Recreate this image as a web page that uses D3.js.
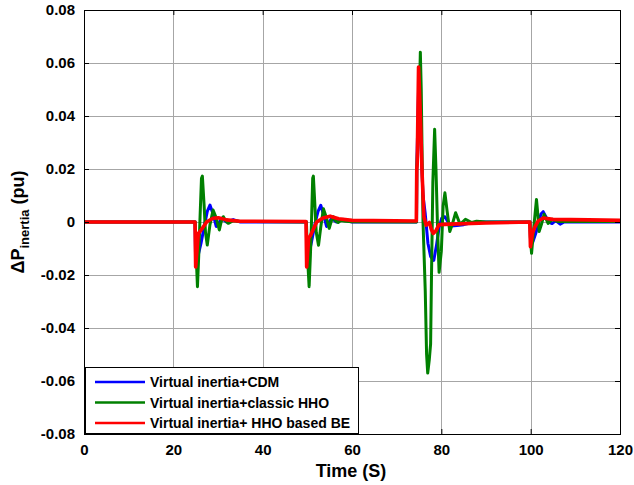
<!DOCTYPE html>
<html>
<head>
<meta charset="utf-8">
<script src="https://cdn.jsdelivr.net/npm/d3@7"></script>
<style>
  body { margin: 0; background: #fff; }
  text { font-family: Arial, "Liberation Sans", sans-serif; font-weight: bold; fill: #000; }
</style>
</head>
<body>
<svg id="chart" width="634" height="485"></svg>
<script>
// Axis ticks
const xTicks = [0, 20, 40, 60, 80, 100, 120];
const yTicks = [-0.08, -0.06, -0.04, -0.02, 0, 0.02, 0.04, 0.06, 0.08];

// Series labels
const seriesNames = ["Virtual inertia+CDM", "Virtual inertia+classic HHO", "Virtual inertia+ HHO based BE"];

// [time (s), ΔP_inertia (pu)] for each controller
const cdmPoints = [
  [0, 0], [24.85, 0], [25.0, -0.016], [25.5, -0.013], [26.2, -0.008], [27.0, -0.001], [27.6, 0.004],
  [28.2, 0.0064], [28.9, 0.003], [29.6, -0.0017], [30.2, -0.0005], [30.8, 0.0014], [31.9, 0.0],
  [33.4, 0.0009], [35.0, 0.0],
  [49.75, 0], [49.9, -0.016], [50.4, -0.012], [51.0, -0.007], [51.8, 0.0], [52.4, 0.004], [53.0, 0.0063],
  [53.6, 0.003], [54.3, -0.0017], [54.9, 0.0], [55.4, 0.0013], [56.5, 0.0], [58.0, 0.001], [60.0, 0.0],
  [74.45, 0], [74.5, 0.02], [74.9, 0.05], [75.2, 0.04], [75.6, 0.022], [75.9, 0.01], [76.4, 0.003],
  [77.0, -0.008], [77.6, -0.013], [78.3, -0.0145], [78.9, -0.009], [79.5, -0.002], [80.1, 0.0015],
  [80.8, 0.002], [81.5, 0.0], [82.2, -0.0015], [83.5, -0.0013], [85.0, -0.001], [86.5, -0.0004], [88.0, 0],
  [99.85, 0], [100.0, -0.009], [100.5, -0.0075], [101.2, -0.004], [101.8, 0.0], [102.3, 0.003],
  [102.8, 0.0039], [103.4, 0.002], [104.0, 0.0], [104.8, -0.0006], [105.6, 0.0005], [106.6, -0.0008],
  [107.5, 0], [120, 0]
];

const hhoPoints = [
  [0, 0], [24.9, 0], [25.1, -0.012], [25.4, -0.0244], [25.7, -0.012], [25.9, -0.002], [26.3, 0.0165],
  [26.5, 0.0173], [26.9, 0.006], [27.2, -0.004], [27.6, -0.0087], [28.2, -0.001], [28.9, 0.0045],
  [29.5, 0.002], [30.3, -0.003], [30.7, 0], [31.2, 0.002], [31.7, 0.0005], [32.3, -0.0005],
  [33.4, 0.0005], [35, 0.0002],
  [49.8, 0], [50.0, -0.012], [50.4, -0.0244], [50.7, -0.012], [50.9, -0.002], [51.2, 0.0165],
  [51.35, 0.0173], [51.7, 0.006], [52.0, -0.004], [52.5, -0.0088], [53.0, -0.002], [53.6, 0.005],
  [54.2, 0.002], [54.9, -0.0024], [55.3, 0], [55.8, 0.002], [56.3, 0.0005], [56.9, -0.0002],
  [57.5, 0.0006], [58.5, 0.0003], [60, 0.0001],
  [74.45, 0], [74.5, 0.02], [75.0, 0.04], [75.3, 0.0641], [75.5, 0.05], [75.9, 0], [76.4, -0.026],
  [76.7, -0.05], [76.95, -0.057], [77.3, -0.052], [77.6, -0.046], [77.8, -0.02], [78.1, 0.015],
  [78.5, 0.035], [78.8, 0.02], [79.2, -0.005], [79.5, -0.019], [80.0, -0.011], [80.4, 0.006],
  [80.8, 0.011], [81.3, 0.004], [81.9, -0.0036], [82.5, -0.0006], [83.2, 0.0035], [84.2, -0.0009],
  [85.4, 0.001], [86.8, -0.0002], [87.9, 0.0003], [90, 0],
  [99.85, 0], [99.95, -0.006], [100.2, -0.0118], [100.7, -0.002], [101.3, 0.0085], [101.6, 0.003],
  [101.9, -0.0036], [102.4, -0.001], [103.0, 0.0029], [103.9, -0.0005], [104.8, 0.001], [106, 0.0002],
  [120, 0.0002]
];

const bePoints = [
  [0, 0], [24.85, 0], [25.0, -0.017], [25.6, -0.0043], [26.1, -0.0033], [27.5, 0.0001], [28.9, 0.0014],
  [30.1, 0.0016], [31.9, 0.0008], [34.9, 0.0003],
  [49.7, 0.0002], [49.85, -0.017], [50.3, -0.006], [50.75, -0.0049], [52.1, 0], [53.5, 0.0015],
  [55.1, 0.0022], [57, 0.0012], [60, 0.0006],
  [74.4, 0.0004], [74.5, 0.020], [74.6, 0.022], [74.9, 0.0585], [75.1, 0.05], [75.4, 0.035],
  [75.7, 0.018], [76.1, 0.002], [76.6, -0.0012], [77.3, -0.0002], [77.8, -0.003], [78.2, -0.0043],
  [78.7, -0.0035], [79.5, -0.001], [82, -0.0008], [90, -0.0004],
  [99.8, 0], [99.95, -0.0093], [100.4, -0.0043], [100.9, -0.002], [101.7, 0.0004], [102.8, 0.0015],
  [105, 0.001], [113, 0.0008], [120, 0.0006]
];

const series = [
  { name: seriesNames[0], points: cdmPoints, color: "#0000ff", width: 3 },
  { name: seriesNames[1], points: hhoPoints, color: "#008000", width: 3 },
  { name: seriesNames[2], points: bePoints,  color: "#ff0000", width: 3.6 }
];

const svg = d3.select("#chart");
const plot = { left: 84, right: 620, top: 10, bottom: 434 };

const x = d3.scaleLinear().domain([0, 120]).range([plot.left, plot.right]);
const y = d3.scaleLinear().domain([-0.08, 0.08]).range([plot.bottom, plot.top]);

svg.append("rect").attr("width", 634).attr("height", 485).attr("fill", "#fff");

// Grid
const grid = svg.append("g").attr("stroke", "#a6a6a6").attr("stroke-width", 1);
grid.selectAll("line.gx").data(xTicks.slice(1, -1)).join("line")
  .attr("x1", d => Math.round(x(d)) + 0.5).attr("x2", d => Math.round(x(d)) + 0.5)
  .attr("y1", plot.top).attr("y2", plot.bottom);
grid.selectAll("line.gy").data(yTicks.slice(1, -1)).join("line")
  .attr("y1", d => Math.round(y(d)) + 0.5).attr("y2", d => Math.round(y(d)) + 0.5)
  .attr("x1", plot.left).attr("x2", plot.right);

// Curves
svg.append("clipPath").attr("id", "clip").append("rect")
  .attr("x", plot.left).attr("y", plot.top)
  .attr("width", plot.right - plot.left).attr("height", plot.bottom - plot.top);

const line = d3.line().x(d => x(d[0])).y(d => y(d[1]));
svg.append("g").attr("clip-path", "url(#clip)")
  .selectAll("path").data(series).join("path")
  .attr("d", d => line(d.points))
  .attr("fill", "none")
  .attr("stroke", d => d.color)
  .attr("stroke-width", d => d.width)
  .attr("stroke-linejoin", "round");

// Axes with inward ticks on all four sides
const fmt = v => (Math.abs(v) < 1e-9 ? "0" : v.toFixed(2));
const bottomAxis = d3.axisBottom(x).tickValues(xTicks).tickSizeInner(-5).tickSizeOuter(0).tickPadding(10);
const topAxis = d3.axisTop(x).tickValues(xTicks).tickSizeInner(-5).tickSizeOuter(0).tickFormat("");
const leftAxis = d3.axisLeft(y).tickValues(yTicks).tickSizeInner(-5).tickSizeOuter(0).tickPadding(9).tickFormat(fmt);
const rightAxis = d3.axisRight(y).tickValues(yTicks).tickSizeInner(-5).tickSizeOuter(0).tickFormat("");

function styleAxis(g) {
  g.select(".domain").remove();
  g.selectAll(".tick line").attr("stroke", "#000");
  g.selectAll(".tick text").attr("font-size", 15).attr("font-weight", "bold")
    .attr("font-family", "Arial, 'Liberation Sans', sans-serif").attr("fill", "#000");
}
svg.append("g").attr("transform", `translate(0,${plot.bottom})`).call(bottomAxis).call(styleAxis);
svg.append("g").attr("transform", `translate(0,${plot.top})`).call(topAxis).call(styleAxis);
svg.append("g").attr("transform", `translate(${plot.left},0)`).call(leftAxis).call(styleAxis);
svg.append("g").attr("transform", `translate(${plot.right},0)`).call(rightAxis).call(styleAxis);

// Frame
svg.append("rect")
  .attr("x", plot.left + 0.5).attr("y", plot.top + 0.5)
  .attr("width", plot.right - plot.left).attr("height", plot.bottom - plot.top)
  .attr("fill", "none").attr("stroke", "#000").attr("stroke-width", 1);

// Axis titles
svg.append("text").attr("x", 351).attr("y", 477).attr("text-anchor", "middle")
  .attr("font-size", 18).text("Time (S)");

const yTitle = svg.append("text")
  .attr("transform", `translate(24,222) rotate(-90)`)
  .attr("text-anchor", "middle").attr("font-size", 18);
yTitle.append("tspan").text("ΔP");
yTitle.append("tspan").attr("font-size", 13).attr("dy", 5).text("inertia");
yTitle.append("tspan").attr("dy", -5).text(" (pu)");

// Legend
const legend = svg.append("g");
legend.append("rect")
  .attr("x", 85.5).attr("y", 367.5).attr("width", 273).attr("height", 66)
  .attr("fill", "#fff").attr("stroke", "#000").attr("stroke-width", 1);
const items = legend.selectAll("g.item").data(series).join("g")
  .attr("transform", (d, i) => `translate(0,${382 + i * 20.5})`);
items.append("line").attr("x1", 95).attr("x2", 145).attr("y1", 0).attr("y2", 0)
  .attr("stroke", d => d.color).attr("stroke-width", 2.4);
items.append("text").attr("x", 150).attr("y", 5).attr("font-size", 14).text(d => d.name);
</script>
</body>
</html>
